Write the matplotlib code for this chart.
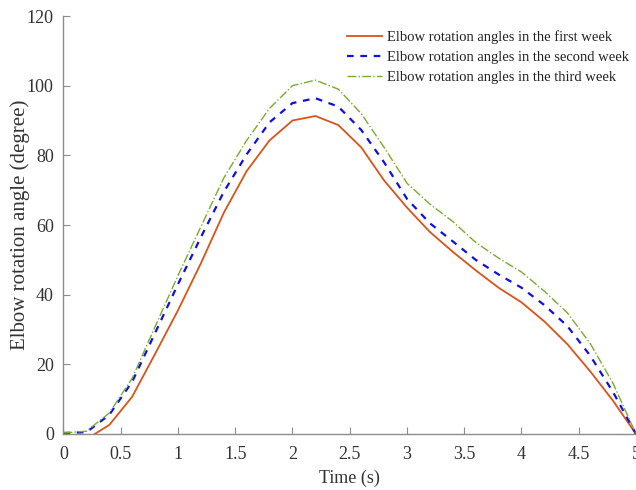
import matplotlib
matplotlib.use("Agg")
import matplotlib.pyplot as plt

plt.rcParams["font.family"] = ["Liberation Serif", "DejaVu Serif"]

# time samples (s)
time_s = [0.0, 0.2, 0.4, 0.6, 0.8, 1.0, 1.2, 1.4, 1.6, 1.8, 2.0, 2.2, 2.4,
          2.6, 2.8, 3.0, 3.2, 3.4, 3.6, 3.8, 4.0, 4.2, 4.4, 4.6, 4.8, 5.0]

# elbow rotation angles (degree)
week1 = [0.0, -1.5, 2.6, 10.7, 23.0, 35.5, 49.0, 63.5, 75.5, 84.3, 90.0, 91.3, 88.7,
         82.3, 72.8, 65.0, 58.0, 52.3, 47.0, 42.0, 37.8, 32.3, 25.8, 18.0, 9.5, 0.0]
week2 = [0.3, 0.5, 5.5, 15.0, 29.0, 43.0, 56.5, 69.5, 80.3, 89.5, 95.0, 96.4, 94.0,
         87.3, 78.0, 67.5, 60.5, 55.3, 50.0, 45.8, 42.0, 37.0, 31.0, 22.5, 12.0, 0.0]
week3 = [0.3, 0.8, 6.0, 16.0, 30.8, 45.5, 59.5, 73.5, 84.3, 93.5, 100.0, 101.6, 99.0,
         92.0, 82.3, 72.0, 66.0, 61.0, 55.0, 50.5, 46.5, 41.0, 34.8, 26.0, 14.5, 0.0]

labels = [
    "Elbow rotation angles in the first week",
    "Elbow rotation angles in the second week",
    "Elbow rotation angles in the third week",
]

fig = plt.figure(figsize=(6.36, 4.90), dpi=100)
ax = fig.add_axes([0.0998, 0.1143, 0.9002, 0.853])

ax.plot(time_s, week1, color="#D95319", lw=1.3, ls="-", label=labels[0])
ax.plot(time_s, week2, color="#1010E0", lw=1.6, ls=(0, (3, 3)), label=labels[1])
ax.plot(time_s, week3, color="#77AC30", lw=1.0, ls="-.", label=labels[2])

ax.set_xlim(0, 5)
ax.set_ylim(0, 120)
ax.set_xticks([0, 0.5, 1, 1.5, 2, 2.5, 3, 3.5, 4, 4.5, 5])
ax.set_xticklabels(["0", "0.5", "1", "1.5", "2", "2.5", "3", "3.5", "4", "4.5", "5"])
ax.set_yticks([0, 20, 40, 60, 80, 100, 120])

for side in ["top", "right"]:
    ax.spines[side].set_visible(False)
for side in ["left", "bottom"]:
    ax.spines[side].set_color("#8c8c8c")
    ax.spines[side].set_linewidth(1.0)

ax.tick_params(direction="in", length=5, width=0.8, color="#8c8c8c",
               labelsize=13, labelcolor="#333333")
ax.tick_params(axis="x", pad=9)
ax.tick_params(axis="y", pad=7)

ax.set_xlabel("Time (s)", fontsize=13, color="#333333", labelpad=4.5)
ax.set_ylabel("Elbow rotation angle (degree)", fontsize=15, color="#333333", labelpad=-2)

ax.legend(loc="upper right", bbox_to_anchor=(1.01, 0.997), frameon=False,
          fontsize=10.5, handlelength=2.4, handletextpad=0.3, labelspacing=0.45,
          labelcolor="#222222")

fig.savefig("out.png", dpi=100)
